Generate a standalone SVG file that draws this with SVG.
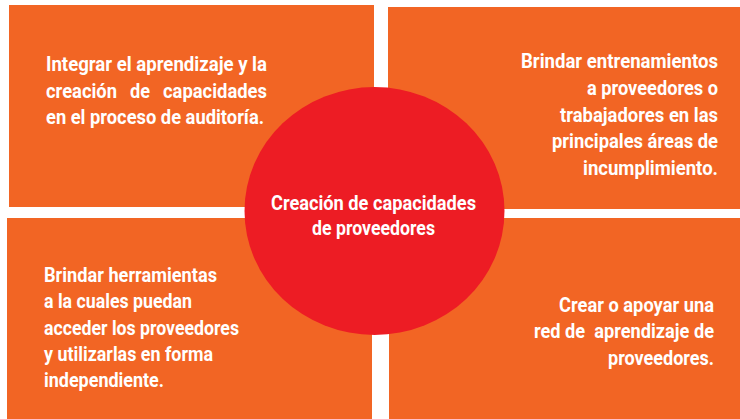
<svg xmlns="http://www.w3.org/2000/svg" width="740" height="419" viewBox="0 0 740 419">
<style>
.box{fill:#F26524}
.hub{fill:#ED1C24}
.t{font-family:"Roboto","DejaVu Sans Condensed",sans-serif;font-weight:bold;font-size:20px;fill:#FFFFFF}
.r{text-anchor:end}
.c{text-anchor:middle}
</style>
<rect width="740" height="419" fill="#FFFFFF"/>
<g id="node-top-left">
<rect class="box" x="9" y="5" width="365" height="202"/>
<text class="t" x="46" y="71" textLength="221" lengthAdjust="spacingAndGlyphs">Integrar el aprendizaje y la</text>
<text class="t" y="98"><tspan x="46" textLength="71" lengthAdjust="spacingAndGlyphs">creación</tspan> <tspan x="130" textLength="20" lengthAdjust="spacingAndGlyphs">de</tspan> <tspan x="163" textLength="104" lengthAdjust="spacingAndGlyphs">capacidades</tspan></text>
<text class="t" x="46" y="124" textLength="218" lengthAdjust="spacingAndGlyphs">en el proceso de auditoría.</text>
</g>
<g id="node-top-right">
<rect class="box" x="388" y="7" width="352" height="202"/>
<text class="t" x="521" y="68" textLength="197" lengthAdjust="spacingAndGlyphs">Brindar entrenamientos</text>
<text class="t" x="587" y="95" textLength="131" lengthAdjust="spacingAndGlyphs">a proveedores o</text>
<text class="t" x="560" y="122" textLength="158" lengthAdjust="spacingAndGlyphs">trabajadores en las</text>
<text class="t" x="552" y="148" textLength="166" lengthAdjust="spacingAndGlyphs">principales áreas de</text>
<text class="t" x="583" y="175" textLength="135" lengthAdjust="spacingAndGlyphs">incumplimiento.</text>
</g>
<g id="node-bottom-left">
<rect class="box" x="7" y="218" width="365" height="201"/>
<text class="t" x="44" y="282" textLength="173" lengthAdjust="spacingAndGlyphs">Brindar herramientas</text>
<text class="t" x="44" y="308" textLength="148" lengthAdjust="spacingAndGlyphs">a la cuales puedan</text>
<text class="t" x="44" y="335" textLength="195" lengthAdjust="spacingAndGlyphs">acceder los proveedores</text>
<text class="t" x="44" y="361" textLength="169" lengthAdjust="spacingAndGlyphs">y utilizarlas en forma</text>
<text class="t" x="44" y="387" textLength="120" lengthAdjust="spacingAndGlyphs">independiente.</text>
</g>
<g id="node-bottom-right">
<rect class="box" x="389" y="218" width="351" height="201"/>
<text class="t" x="559" y="312" textLength="155" lengthAdjust="spacingAndGlyphs">Crear o apoyar una</text>
<text class="t" x="534" y="338" textLength="180" lengthAdjust="spacingAndGlyphs" xml:space="preserve" style="white-space:pre">red de  aprendizaje de</text>
<text class="t" x="608" y="365" textLength="106" lengthAdjust="spacingAndGlyphs">proveedores.</text>
</g>
<g id="node-center">
<ellipse class="hub" cx="374.5" cy="211" rx="130" ry="124"/>
<text class="t" x="271" y="210" textLength="205" lengthAdjust="spacingAndGlyphs">Creación de capacidades</text>
<text class="t" x="312" y="235" textLength="123" lengthAdjust="spacingAndGlyphs">de proveedores</text>
</g>
<g id="connectors"></g>
</svg>
